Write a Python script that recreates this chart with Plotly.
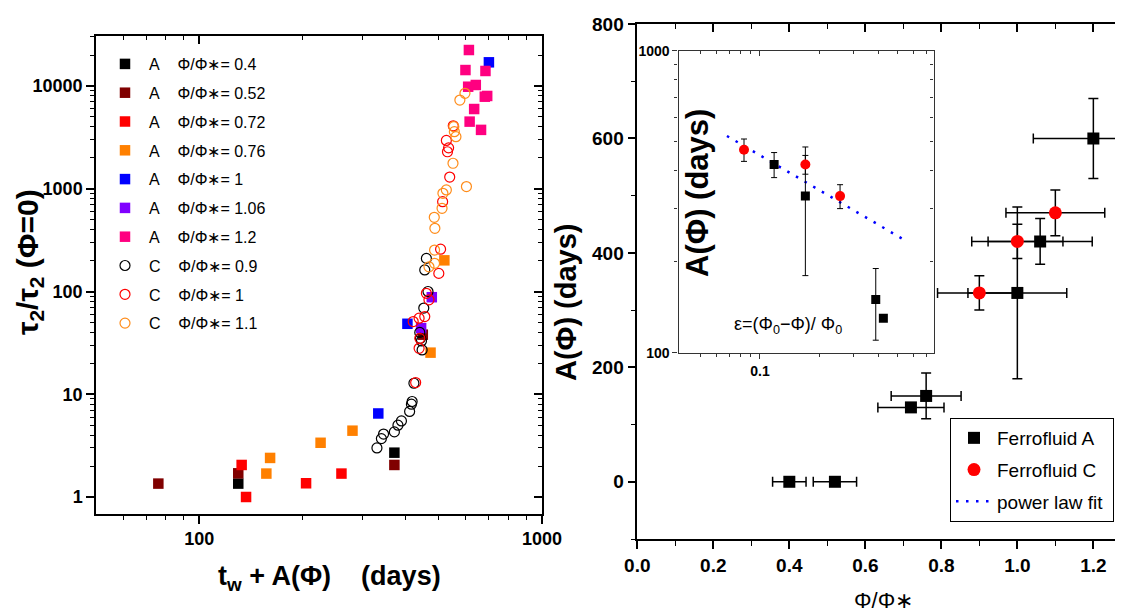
import math
import plotly.graph_objects as go

W, H = 1123, 614
OFF = 8  # the page body offsets the figure by this many pixels
FONT = "Liberation Sans, Arial, sans-serif"
NB = "\u00a0"


def px(X):
    return (X - OFF) / W


def py(Y):
    return 1 - (Y - OFF) / H


# ---------------- Left panel data: tau2/tau2(Phi=0) vs t_w + A(Phi) ----------------
series_names = ["A" + NB * 4 + "Φ/Φ∗= 0.4", "A" + NB * 4 + "Φ/Φ∗= 0.52", "A" + NB * 4 + "Φ/Φ∗= 0.72",
                "A" + NB * 4 + "Φ/Φ∗= 0.76", "A" + NB * 4 + "Φ/Φ∗= 1", "A" + NB * 4 + "Φ/Φ∗= 1.06",
                "A" + NB * 4 + "Φ/Φ∗= 1.2", "C" + NB * 4 + "Φ/Φ∗= 0.9", "C" + NB * 4 + "Φ/Φ∗= 1",
                "C" + NB * 4 + "Φ/Φ∗= 1.1"]
a04_x = [130, 371]
a04_y = [1.35, 2.7]
a052_x = [76, 130, 371, 449]
a052_y = [1.35, 1.7, 2.05, 38]
a072_x = [133, 137, 205, 260]
a072_y = [2.05, 1.0, 1.36, 1.69]
a076_x = [157, 161, 226, 280, 473, 519]
a076_y = [1.69, 2.4, 3.37, 4.42, 25.4, 201]
a1_x = [333, 405, 700]
a1_y = [6.5, 48.5, 17000]
a106_x = [444, 477]
a106_y = [44, 88]
a12_x = [612, 598, 684, 609, 641, 681, 692, 634, 615, 664]
a12_y = [22400, 14300, 14000, 9840, 10230, 7870, 8000, 5970, 4500, 3740]
c09_x = [330, 340, 345, 371, 380, 389, 411, 416, 418, 423, 440, 442, 445, 447, 452, 465, 455, 460]
c09_y = [3.0, 3.7, 4.1, 4.3, 5.0, 5.5, 6.8, 8.0, 8.5, 12.8, 40, 35, 33, 27, 69, 100, 162, 210]
c1_x = [428, 421, 438, 455, 440, 438, 460, 468, 500, 506, 513, 538, 526, 534, 530, 551]
c1_y = [13, 51, 55, 57, 35, 28, 96, 83, 150, 258, 748, 1300, 2950, 2500, 2290, 4100]
c11_x = [468, 486, 486, 485, 487, 511, 514, 526, 550, 561, 555, 553, 576, 596, 602]
c11_y = [174, 188, 253, 527, 412, 645, 903, 973, 1770, 3210, 3590, 4020, 7300, 8490, 1050]

left_x = [a04_x, a052_x, a072_x, a076_x, a1_x, a106_x, a12_x, c09_x, c1_x, c11_x]
left_y = [a04_y, a052_y, a072_y, a076_y, a1_y, a106_y, a12_y, c09_y, c1_y, c11_y]
left_colors = ["#000000", "#800000", "#ff0000", "#ff8000", "#0000ff", "#8000ff", "#ff0080",
               "#000000", "#ff0000", "#ff8c1a"]
left_open = [False] * 7 + [True] * 3

# ---------------- Right panel data: A(Phi) vs Phi/Phi* ----------------
phi_A = [0.4, 0.52, 0.72, 0.76, 1.0, 1.06, 1.2]
A_A = [0, 0, 130, 150, 330, 420, 600]
A_A_xerr = [0.044, 0.057, 0.087, 0.092, 0.13, 0.137, 0.158]
A_A_yerr = [0, 0, 0, 40, 150, 40, 70]
phi_C = [0.9, 1.0, 1.1]
A_C = [330, 420, 470]
A_C_xerr = [0.11, 0.12, 0.13]
A_C_yerr = [30, 30, 40]

# ---------------- Inset data: A(Phi) vs epsilon ----------------
eps_A = [0.118, 0.17, 0.387, 0.423]
A_A_in = [420, 330, 150, 130]
A_A_in_err = [40, 150, 40, 0]
eps_C = [0.083, 0.17, 0.255]
A_C_in = [470, 420, 330]
A_C_in_err = [40, 30, 30]
fit_eps = [0.068, 0.53]
fit_A = [522, 238]

fig = go.Figure()

# left panel traces
for i, (name, xs, ys, col, op) in enumerate(zip(series_names, left_x, left_y, left_colors, left_open)):
    if op:
        mk = dict(symbol="circle-open", size=10, color=col, line=dict(width=1.2, color=col))
    else:
        mk = dict(symbol="square", size=10.5, color=col, line=dict(width=0))
    fig.add_trace(go.Scatter(x=xs, y=ys, mode="markers", marker=mk, name=name,
                             legendgroup="L%d" % i, xaxis="x", yaxis="y", legend="legend"))

# right main traces
fig.add_trace(go.Scatter(
    x=phi_A, y=A_A, mode="markers", name="Ferrofluid A", xaxis="x3", yaxis="y3", legend="legend2",
    legendgroup="R1", marker=dict(symbol="square", size=12, color="black"),
    error_x=dict(type="data", array=A_A_xerr, color="black", thickness=1.5, width=5),
    error_y=dict(type="data", array=A_A_yerr, color="black", thickness=1.5, width=5)))
fig.add_trace(go.Scatter(
    x=phi_C, y=A_C, mode="markers", name="Ferrofluid C", xaxis="x3", yaxis="y3", legend="legend2",
    legendgroup="R2", marker=dict(symbol="circle", size=13, color="#ff0000"),
    error_x=dict(type="data", array=A_C_xerr, color="black", thickness=1.5, width=5),
    error_y=dict(type="data", array=A_C_yerr, color="black", thickness=1.5, width=5)))

# inset traces
fig.add_trace(go.Scatter(
    x=fit_eps, y=fit_A, mode="lines", name="power law fit" + NB, xaxis="x5", yaxis="y5",
    legend="legend2", legendgroup="R3",
    line=dict(color="#0000ff", width=2.5, dash="2.5px,7.5px")))
fig.add_trace(go.Scatter(
    x=eps_A, y=A_A_in, mode="markers", showlegend=False, xaxis="x5", yaxis="y5",
    marker=dict(symbol="square", size=9, color="black"),
    error_y=dict(type="data", array=A_A_in_err, color="black", thickness=1, width=3)))
fig.add_trace(go.Scatter(
    x=eps_C, y=A_C_in, mode="markers", showlegend=False, xaxis="x5", yaxis="y5",
    marker=dict(symbol="circle", size=10, color="#ff0000"),
    error_y=dict(type="data", array=A_C_in_err, color="black", thickness=1, width=3)))


def axis(**kw):
    d = dict(showgrid=False, zeroline=False, showline=True, linecolor="black", linewidth=1.5,
             ticks="outside", ticklen=8, tickwidth=1.5, tickcolor="black", automargin=False,
             tickfont=dict(family=FONT, size=19, color="black", weight="bold"))
    d.update(kw)
    return d


def minor(vals, side="outside", ln=4, col="black", w=1.2):
    return dict(tickvals=vals, ticks=side, ticklen=ln, tickwidth=w, tickcolor=col)


# geometry in screen pixels
L_x0, L_x1, L_y0, L_y1 = 96, 542, 36, 514
R_x0, R_x1, R_y0, R_y1 = 637.3, 1123, 24, 539
I_x0, I_x1, I_y0, I_y1 = 678.5, 933.5, 50.7, 352.7

dL = [px(L_x0), px(L_x1)]
dLy = [py(L_y1), py(L_y0)]
dR = [px(R_x0), px(R_x1)]
dRy = [py(R_y1), py(R_y0)]
dI = [px(I_x0), px(I_x1)]
dIy = [py(I_y1), py(I_y0)]

lx_range = [math.log10(50), 3.0]
ly_range = [-0.1655, 4.4866]
lx_minor = [60, 70, 80, 90, 200, 300, 400, 500, 600, 700, 800, 900]
ly_minor = [m * 10 ** e for e in range(0, 5) for m in range(2, 10)]

ix_range = [math.log10(0.0386), math.log10(0.76)]
ix_minor = [0.05, 0.06, 0.07, 0.08, 0.09, 0.2, 0.3, 0.4, 0.5, 0.6, 0.7]
iy_minor = [200, 300, 400, 500, 600, 700, 800, 900]
inset_style = dict(linecolor="#333333", linewidth=1.2, tickcolor="#333333", ticklen=5, tickwidth=1,
                   tickfont=dict(family=FONT, size=14, color="black", weight="bold"))
left_tick_font = dict(family=FONT, size=18, color="black", weight="bold")

fig.update_layout(
    width=W, height=H, margin=dict(l=0, r=0, t=0, b=0, pad=0, autoexpand=False),
    paper_bgcolor="white", plot_bgcolor="white",
    # left panel
    xaxis=axis(type="log", domain=dL, range=lx_range, anchor="y", tickvals=[100, 1000],
               ticktext=["100", "1000"], minor=minor(lx_minor), tickfont=left_tick_font),
    yaxis=axis(type="log", domain=dLy, range=ly_range, anchor="x",
               tickvals=[1, 10, 100, 1000, 10000], ticktext=["1", "10", "100", "1000", "10000"],
               minor=minor(ly_minor), tickfont=left_tick_font),
    xaxis2=axis(type="log", domain=dL, range=lx_range, anchor="y", overlaying="x", side="top",
                tickvals=[100, 1000], showticklabels=False, ticks="inside",
                minor=minor(lx_minor, "inside")),
    yaxis2=axis(type="log", domain=dLy, range=ly_range, anchor="x", overlaying="y", side="right",
                tickvals=[1, 10, 100, 1000, 10000], showticklabels=False, ticks="inside",
                minor=minor(ly_minor, "inside")),
    # right panel
    xaxis3=axis(domain=dR, range=[0, 1.278], anchor="y3", tickvals=[0, 0.2, 0.4, 0.6, 0.8, 1.0, 1.2],
                ticktext=["0.0", "0.2", "0.4", "0.6", "0.8", "1.0", "1.2"],
                minor=minor([0.1, 0.3, 0.5, 0.7, 0.9, 1.1], ln=5)),
    yaxis3=axis(domain=dRy, range=[-100, 800], anchor="x3", tickvals=[0, 200, 400, 600, 800],
                minor=minor([-100, 100, 300, 500, 700], ln=5)),
    xaxis4=axis(domain=dR, range=[0, 1.278], anchor="y3", overlaying="x3", side="top",
                tickvals=[0, 0.2, 0.4, 0.6, 0.8, 1.0, 1.2], showticklabels=False, ticks="inside",
                minor=minor([0.1, 0.3, 0.5, 0.7, 0.9, 1.1], "inside", 5)),
    yaxis4=axis(domain=dRy, range=[-100, 800], anchor="x3", overlaying="y3", side="right",
                showline=False, tickvals=[0, 200, 400, 600, 800], showticklabels=False,
                ticks="inside", minor=minor([100, 300, 500, 700], "inside", 5)),
    # inset
    xaxis5=axis(type="log", domain=dI, range=ix_range, anchor="y5", tickvals=[0.1], ticktext=["0.1"],
                minor=minor(ix_minor, ln=3, col="#333333", w=1), **inset_style),
    yaxis5=axis(type="log", domain=dIy, range=[2, 3], anchor="x5", tickvals=[100, 1000],
                ticktext=["100", "1000"], minor=minor(iy_minor, ln=3, col="#333333", w=1), **inset_style),
    xaxis6=axis(type="log", domain=dI, range=ix_range, anchor="y5", overlaying="x5", side="top",
                tickvals=[0.1], showticklabels=False, ticks="inside",
                minor=minor(ix_minor, "inside", 3, "#333333", 1), **inset_style),
    yaxis6=axis(type="log", domain=dIy, range=[2, 3], anchor="x5", overlaying="y5", side="right",
                tickvals=[100, 1000], showticklabels=False, ticks="inside",
                minor=minor(iy_minor, "inside", 3, "#333333", 1), **inset_style),
    legend=dict(x=px(101), y=py(47), xanchor="left", yanchor="top", bgcolor="rgba(0,0,0,0)",
                borderwidth=0, font=dict(family=FONT, size=16, color="black"),
                itemwidth=38, tracegroupgap=5),
    legend2=dict(x=px(950), y=py(418), xanchor="left", yanchor="top", bgcolor="white",
                 bordercolor="black", borderwidth=1, font=dict(family=FONT, size=19, color="black"),
                 itemwidth=36, tracegroupgap=4),
    showlegend=True,
)

# dummy traces so overlay axes are drawn
for xa, ya in [("x2", "y2"), ("x4", "y4"), ("x6", "y6")]:
    fig.add_trace(go.Scatter(x=[None], y=[None], xaxis=xa, yaxis=ya, showlegend=False,
                             hoverinfo="skip", mode="markers"))

ann = [
    dict(text="τ<sub>2</sub>/τ<sub>2</sub> (Φ=0)", x=px(30), y=py(262), textangle=-90,
         font=dict(family=FONT, size=30, weight="bold")),
    dict(text="t<sub>w</sub> + A(Φ)" + NB * 4 + "(days)", x=px(329), y=py(578),
         font=dict(family=FONT, size=27, weight="bold")),
    dict(text="A(Φ) (days)", x=px(566), y=py(302), textangle=-90,
         font=dict(family=FONT, size=29, weight="bold")),
    dict(text="Φ/Φ∗", x=px(883), y=py(600), font=dict(family=FONT, size=22)),
    dict(text="A(Φ) (days)", x=px(697), y=py(193), textangle=-90,
         font=dict(family=FONT, size=31, weight="bold")),
    dict(text="ε=(Φ<sub>0</sub>−Φ)/ Φ<sub>0</sub>", x=px(788), y=py(325),
         font=dict(family=FONT, size=18)),
]
for a in ann:
    a.update(xref="paper", yref="paper", showarrow=False, xanchor="center", yanchor="middle")
    a["font"].setdefault("color", "black")
fig.update_layout(annotations=ann)

fig.write_html("out.html")
